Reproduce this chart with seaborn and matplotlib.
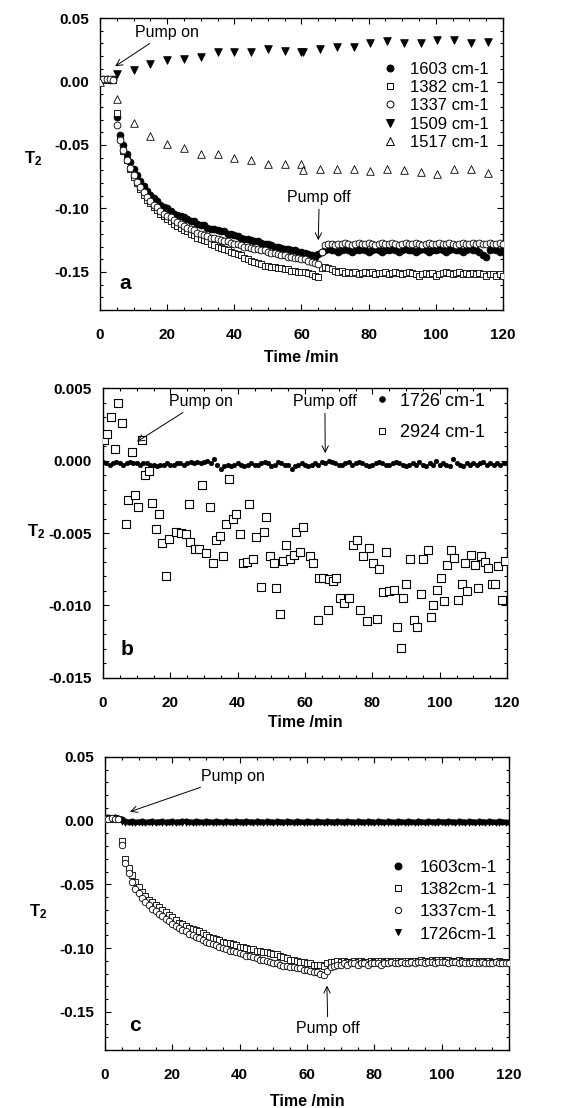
import matplotlib
matplotlib.use("Agg")
import matplotlib.pyplot as plt
import seaborn as sns
from matplotlib.lines import Line2D
from matplotlib.ticker import MultipleLocator, FuncFormatter

sns.set_theme(style="ticks")
plt.rcParams['font.family'] = ['Liberation Sans', 'DejaVu Sans']
plt.rcParams['font.weight'] = 'bold'
plt.rcParams['axes.labelweight'] = 'bold'
plt.rcParams['axes.unicode_minus'] = False
plt.rcParams['mathtext.fontset'] = 'custom'
plt.rcParams['mathtext.rm'] = 'Liberation Sans'
plt.rcParams['mathtext.bf'] = 'Liberation Sans:bold'
for k in ['axes.edgecolor', 'xtick.color', 'ytick.color', 'text.color', 'axes.labelcolor']:
    plt.rcParams[k] = 'black'

# ---- data -------------------------------------------------------------
minutes = list(range(121))

# panel a
a_1603 = [0.001, 0.002, 0.002, 0.001, 0.002, -0.028, -0.042, -0.050, -0.057, -0.063,
          -0.069, -0.074, -0.078, -0.082, -0.086, -0.089, -0.092, -0.094, -0.097, -0.099,
          -0.100, -0.102, -0.104, -0.105, -0.106, -0.107, -0.108, -0.110, -0.110, -0.112,
          -0.113, -0.113, -0.115, -0.116, -0.116, -0.117, -0.118, -0.118, -0.120, -0.120,
          -0.121, -0.122, -0.123, -0.124, -0.124, -0.125, -0.126, -0.126, -0.127, -0.128,
          -0.128, -0.129, -0.130, -0.130, -0.131, -0.132, -0.132, -0.133, -0.133, -0.134,
          -0.134, -0.135, -0.136, -0.137, -0.138, -0.136, -0.134, -0.133, -0.132, -0.133,
          -0.133, -0.134, -0.133, -0.132, -0.133, -0.134, -0.133, -0.133, -0.132, -0.133,
          -0.134, -0.133, -0.132, -0.133, -0.134, -0.133, -0.133, -0.132, -0.133, -0.134,
          -0.133, -0.132, -0.133, -0.133, -0.134, -0.133, -0.132, -0.133, -0.134, -0.133,
          -0.133, -0.132, -0.133, -0.134, -0.133, -0.132, -0.133, -0.133, -0.134, -0.133,
          -0.132, -0.133, -0.133, -0.134, -0.137, -0.138, -0.133, -0.132, -0.133, -0.134,
          -0.133]
a_1382 = [0.001, 0.001, 0.002, 0.001, 0.001, -0.025, -0.045, -0.055, -0.062, -0.069,
          -0.075, -0.080, -0.085, -0.089, -0.093, -0.096, -0.099, -0.101, -0.104, -0.106,
          -0.108, -0.110, -0.112, -0.114, -0.115, -0.117, -0.118, -0.120, -0.121, -0.123,
          -0.124, -0.125, -0.126, -0.128, -0.129, -0.130, -0.131, -0.132, -0.133, -0.134,
          -0.135, -0.136, -0.137, -0.139, -0.140, -0.141, -0.142, -0.143, -0.144, -0.145,
          -0.145, -0.146, -0.146, -0.147, -0.147, -0.148, -0.148, -0.149, -0.149, -0.150,
          -0.150, -0.150, -0.151, -0.152, -0.153, -0.154, -0.147, -0.146, -0.147, -0.148,
          -0.149, -0.150, -0.149, -0.151, -0.150, -0.151, -0.150, -0.152, -0.151, -0.150,
          -0.151, -0.150, -0.152, -0.151, -0.151, -0.150, -0.152, -0.151, -0.150, -0.151,
          -0.152, -0.151, -0.150, -0.151, -0.152, -0.153, -0.152, -0.151, -0.152, -0.151,
          -0.153, -0.152, -0.151, -0.150, -0.151, -0.152, -0.151, -0.150, -0.152, -0.151,
          -0.152, -0.151, -0.152, -0.151, -0.152, -0.153, -0.152, -0.152, -0.153, -0.152,
          -0.153]
a_1337 = [0.001, 0.002, 0.002, 0.002, 0.001, -0.034, -0.046, -0.054, -0.062, -0.068,
          -0.074, -0.079, -0.083, -0.087, -0.091, -0.094, -0.097, -0.099, -0.102, -0.104,
          -0.106, -0.107, -0.109, -0.111, -0.112, -0.114, -0.115, -0.116, -0.117, -0.119,
          -0.120, -0.121, -0.122, -0.123, -0.123, -0.124, -0.125, -0.126, -0.126, -0.127,
          -0.128, -0.128, -0.129, -0.130, -0.130, -0.131, -0.132, -0.132, -0.133, -0.133,
          -0.134, -0.135, -0.135, -0.136, -0.137, -0.137, -0.138, -0.138, -0.139, -0.139,
          -0.140, -0.140, -0.141, -0.142, -0.143, -0.144, -0.134, -0.129, -0.128, -0.128,
          -0.129, -0.128, -0.128, -0.127, -0.128, -0.129, -0.128, -0.127, -0.128, -0.128,
          -0.127, -0.128, -0.129, -0.128, -0.127, -0.128, -0.128, -0.127, -0.128, -0.129,
          -0.128, -0.127, -0.128, -0.128, -0.127, -0.128, -0.129, -0.128, -0.127, -0.128,
          -0.128, -0.127, -0.128, -0.128, -0.127, -0.128, -0.129, -0.128, -0.127, -0.128,
          -0.128, -0.127, -0.128, -0.127, -0.128, -0.128, -0.127, -0.128, -0.128, -0.127,
          -0.128]
a_1509_t = [5, 10, 15, 20, 25, 30, 35, 40, 45, 50, 55, 60, 60.5, 65.5, 70.5, 75.5,
            80.5, 85.5, 90.5, 95.5, 100.5, 105.5, 110.5, 115.5]
a_1509 = [0.006, 0.009, 0.014, 0.017, 0.018, 0.019, 0.023, 0.023, 0.023, 0.026, 0.024, 0.023,
          0.023, 0.026, 0.027, 0.027, 0.030, 0.032, 0.030, 0.030, 0.033, 0.033, 0.030, 0.031]
a_1517_t = [0, 5, 10, 15, 20, 25, 30, 35, 40, 45, 50, 55, 60, 60.5, 65.5, 70.5, 75.5,
            80.5, 85.5, 90.5, 95.5, 100.5, 105.5, 110.5, 115.5]
a_1517 = [0.000, -0.014, -0.033, -0.043, -0.049, -0.052, -0.057, -0.057, -0.060, -0.062,
          -0.065, -0.065, -0.065, -0.070, -0.069, -0.069, -0.069, -0.0705, -0.0687, -0.0695,
          -0.0713, -0.0726, -0.069, -0.069, -0.072]

# panel b
b_1726 = [-0.0001, -0.0002, -0.0003, -0.0002, -0.0001, -0.0002, -0.0003, -0.0002, -0.0001, -0.0002,
          -0.0002, -0.0003, -0.0002, -0.0002, -0.0003, -0.0003, -0.0004, -0.0003, -0.0003, -0.0002,
          -0.0003, -0.0003, -0.0002, -0.0002, -0.0003, -0.0002, -0.0001, -0.0002, -0.0001, -0.0002,
          -0.0001, 0.0000, -0.0002, 0.0001, -0.0003, -0.0006, -0.0004, -0.0003, -0.0004, -0.0003,
          -0.0002, -0.0003, -0.0004, -0.0003, -0.0002, -0.0003, -0.0003, -0.0002, -0.0001, -0.0002,
          -0.0004, -0.0003, -0.0001, -0.0002, -0.0003, -0.0003, -0.0006, -0.0004, -0.0003, -0.0002,
          -0.0003, -0.0004, -0.0003, -0.0002, -0.0003, -0.0001, -0.0002, 0.0000, -0.0001, -0.0002,
          -0.0003, -0.0003, -0.0002, -0.0001, -0.0003, -0.0002, -0.0001, -0.0002, -0.0003, -0.0004,
          -0.0003, -0.0002, -0.0001, -0.0002, -0.0003, -0.0003, -0.0002, -0.0001, -0.0002, -0.0003,
          -0.0004, -0.0003, -0.0002, -0.0003, -0.0001, -0.0003, -0.0004, -0.0002, -0.0003, 0.0000,
          -0.0003, -0.0002, -0.0003, -0.0004, 0.0001, -0.0002, -0.0003, -0.0004, -0.0002, -0.0003,
          -0.0002, -0.0003, -0.0002, -0.0001, -0.0003, -0.0002, -0.0003, -0.0002, -0.0003, -0.0002,
          -0.0002]
b_2924_t = [0.4, 1.3, 2.4, 3.6, 4.5, 5.5, 6.7, 7.5, 8.5, 9.5, 10.5, 11.5, 12.4, 13.6, 14.6,
            15.7, 16.7, 17.6, 18.7, 19.6, 21.7, 23.3, 24.7, 25.6, 25.8, 27.2, 28.5, 29.5, 30.7,
            31.7, 32.7, 33.7, 34.6, 35.6, 36.6, 37.4, 38.6, 39.6, 40.6, 41.6, 42.7, 43.5, 44.5,
            45.5, 46.8, 47.7, 48.5, 49.7, 50.7, 51.4, 52.7, 53.6, 54.4, 55.6, 56.6, 57.4, 58.5,
            59.5, 61.5, 62.5, 63.8, 64.3, 65.4, 66.7, 67.2, 68.4, 69.2, 70.4, 71.5, 73.1, 74.3,
            75.3, 76.3, 77.1, 78.3, 79.1, 80.3, 81.4, 82.0, 83.2, 84.0, 85.0, 86.3, 87.3, 88.5,
            89.2, 90.1, 91.1, 92.4, 93.4, 94.4, 95.1, 96.4, 97.3, 98.1, 99.1, 100.3, 101.3,
            102.3, 103.3, 104.2, 105.5, 106.5, 107.4, 108.2, 109.2, 110.5, 111.4, 112.3, 113.4,
            114.4, 115.4, 116.4, 117.4, 118.6, 119.5]
b_2924 = [0.0014, 0.0018, 0.0030, 0.0008, 0.0040, 0.0026, -0.0044, -0.0027, 0.0006, -0.0024,
          -0.0032, 0.0014, -0.0010, -0.0007, -0.0029, -0.0047, -0.0037, -0.0057, -0.0080, -0.0054,
          -0.0049, -0.0050, -0.0051, -0.0030, -0.0056, -0.0061, -0.0061, -0.0017, -0.0064,
          -0.0032, -0.0071, -0.0055, -0.0052, -0.0066, -0.0044, -0.0013, -0.0040, -0.0037,
          -0.0051, -0.0071, -0.0070, -0.0030, -0.0068, -0.0053, -0.0087, -0.0049, -0.0039,
          -0.0066, -0.0071, -0.0088, -0.0106, -0.0069, -0.0058, -0.0068, -0.0065, -0.0049,
          -0.0063, -0.0046, -0.0066, -0.0071, -0.0110, -0.0081, -0.0081, -0.0103, -0.0082,
          -0.0083, -0.0081, -0.0095, -0.0098, -0.0095, -0.0058, -0.0055, -0.0103, -0.0066,
          -0.0111, -0.0060, -0.0071, -0.0109, -0.0075, -0.0091, -0.0063, -0.0090, -0.0089,
          -0.0115, -0.0129, -0.0095, -0.0085, -0.0068, -0.0110, -0.0115, -0.0092, -0.0068,
          -0.0062, -0.0108, -0.0100, -0.0089, -0.0081, -0.0097, -0.0072, -0.0062, -0.0067,
          -0.0096, -0.0085, -0.0071, -0.0090, -0.0065, -0.0072, -0.0088, -0.0066, -0.0070,
          -0.0074, -0.0085, -0.0085, -0.0073, -0.0096, -0.0069]

# panel c
c_1603 = [0.003, 0.003, 0.002, 0.003, 0.002, 0.001, 0.000, -0.001, 0.000, -0.001,
          -0.001, 0.000, -0.001, -0.001, 0.000, -0.001, -0.001, 0.000, -0.001, -0.001,
          0.000, -0.001, -0.001, 0.000, 0.000, -0.001, -0.001, 0.000, -0.001, -0.001,
          0.000, -0.001, -0.001, 0.000, -0.001, -0.001, 0.000, -0.001, -0.001, 0.000,
          -0.001, -0.001, 0.000, -0.001, -0.001, 0.000, -0.001, -0.001, 0.000, -0.001,
          -0.001, 0.000, -0.001, -0.001, 0.000, -0.001, -0.001, 0.000, -0.001, -0.001,
          0.000, -0.001, -0.001, 0.000, -0.001, -0.001, 0.000, -0.001, -0.001, 0.000,
          -0.001, -0.001, 0.000, -0.001, -0.001, 0.000, -0.001, -0.001, 0.000, -0.001,
          -0.001, 0.000, -0.001, -0.001, 0.000, -0.001, -0.001, 0.000, -0.001, -0.001,
          0.000, -0.001, -0.001, 0.000, -0.001, -0.001, 0.000, -0.001, -0.001, 0.000,
          -0.001, -0.001, 0.000, -0.001, -0.001, 0.000, -0.001, -0.001, 0.000, -0.001,
          -0.001, 0.000, -0.001, -0.001, 0.000, -0.001, -0.001, 0.000, -0.001, -0.001,
          -0.001]
c_1382 = [0.001, 0.002, 0.001, 0.002, 0.001, -0.016, -0.030, -0.037, -0.043, -0.048,
          -0.052, -0.056, -0.059, -0.062, -0.064, -0.066, -0.068, -0.070, -0.072, -0.074,
          -0.076, -0.078, -0.080, -0.081, -0.083, -0.084, -0.085, -0.086, -0.087, -0.088,
          -0.090, -0.091, -0.092, -0.093, -0.094, -0.095, -0.096, -0.096, -0.097, -0.098,
          -0.099, -0.099, -0.100, -0.101, -0.101, -0.102, -0.102, -0.103, -0.103, -0.104,
          -0.105, -0.105, -0.106, -0.107, -0.108, -0.109, -0.109, -0.110, -0.111, -0.111,
          -0.112, -0.112, -0.113, -0.113, -0.113, -0.114, -0.112, -0.111, -0.111, -0.110,
          -0.111, -0.110, -0.111, -0.111, -0.110, -0.111, -0.110, -0.111, -0.111, -0.110,
          -0.111, -0.110, -0.110, -0.111, -0.110, -0.111, -0.110, -0.110, -0.111, -0.110,
          -0.110, -0.111, -0.110, -0.110, -0.109, -0.110, -0.110, -0.109, -0.110, -0.109,
          -0.109, -0.110, -0.109, -0.110, -0.110, -0.109, -0.110, -0.110, -0.111, -0.110,
          -0.110, -0.111, -0.110, -0.111, -0.110, -0.111, -0.111, -0.110, -0.111, -0.111,
          -0.111]
c_1337 = [0.001, 0.001, 0.002, 0.001, 0.001, -0.019, -0.033, -0.041, -0.048, -0.054,
          -0.057, -0.061, -0.064, -0.066, -0.069, -0.071, -0.073, -0.075, -0.077, -0.079,
          -0.081, -0.083, -0.084, -0.086, -0.087, -0.089, -0.090, -0.091, -0.092, -0.094,
          -0.095, -0.096, -0.097, -0.098, -0.099, -0.100, -0.101, -0.102, -0.102, -0.103,
          -0.104, -0.105, -0.106, -0.106, -0.107, -0.108, -0.109, -0.109, -0.110, -0.111,
          -0.112, -0.112, -0.113, -0.114, -0.114, -0.115, -0.115, -0.116, -0.116, -0.117,
          -0.117, -0.118, -0.119, -0.119, -0.120, -0.121, -0.118, -0.115, -0.114, -0.113,
          -0.113, -0.112, -0.113, -0.112, -0.112, -0.113, -0.112, -0.112, -0.113, -0.112,
          -0.112, -0.112, -0.113, -0.112, -0.112, -0.111, -0.112, -0.112, -0.111, -0.112,
          -0.112, -0.111, -0.112, -0.111, -0.111, -0.112, -0.111, -0.111, -0.112, -0.111,
          -0.111, -0.111, -0.112, -0.111, -0.111, -0.112, -0.111, -0.112, -0.112, -0.111,
          -0.112, -0.112, -0.111, -0.112, -0.112, -0.112, -0.111, -0.112, -0.112, -0.112,
          -0.112]
c_1726 = [0.001, 0.002, 0.001, 0.002, 0.001, -0.001, -0.002, -0.001, -0.002, -0.002,
          -0.001, -0.002, -0.002, -0.001, -0.002, -0.002, -0.001, -0.002, -0.002, -0.001,
          -0.002, -0.002, -0.001, -0.002, -0.002, -0.001, -0.002, -0.002, -0.001, -0.002,
          -0.002, -0.001, -0.002, -0.002, -0.001, -0.002, -0.002, -0.001, -0.002, -0.002,
          -0.001, -0.002, -0.002, -0.001, -0.002, -0.002, -0.001, -0.002, -0.002, -0.001,
          -0.002, -0.002, -0.001, -0.002, -0.002, -0.001, -0.002, -0.002, -0.001, -0.002,
          -0.002, -0.001, -0.002, -0.002, -0.001, -0.002, -0.002, -0.001, -0.002, -0.002,
          -0.001, -0.002, -0.002, -0.001, -0.002, -0.002, -0.001, -0.002, -0.002, -0.001,
          -0.002, -0.002, -0.001, -0.002, -0.002, -0.001, -0.002, -0.002, -0.001, -0.002,
          -0.002, -0.001, -0.002, -0.002, -0.001, -0.002, -0.002, -0.001, -0.002, -0.002,
          -0.001, -0.002, -0.002, -0.001, -0.002, -0.002, -0.001, -0.002, -0.002, -0.001,
          -0.002, -0.002, -0.001, -0.002, -0.002, -0.001, -0.002, -0.002, -0.001, -0.002,
          -0.002]


def dots(ax, x, y, marker, face, size, lw=0.6):
    sns.scatterplot(x=x, y=y, ax=ax, marker=marker, color=face, edgecolor='black',
                    s=size, linewidth=lw, legend=False, zorder=3)


def style(ax, ylim, ymaj, ymin, fmt, xlab_y, ylab_y):
    ax.set_xlim(0, 120)
    ax.set_ylim(*ylim)
    ax.xaxis.set_major_locator(MultipleLocator(20))
    ax.xaxis.set_minor_locator(MultipleLocator(5))
    ax.yaxis.set_major_locator(MultipleLocator(ymaj))
    ax.yaxis.set_minor_locator(MultipleLocator(ymin))
    ax.yaxis.set_major_formatter(FuncFormatter(lambda v, p: fmt.format(0.0 if abs(v) < 1e-9 else v)))
    ax.tick_params(which='both', direction='in', top=True, right=True, width=0.8)
    ax.tick_params(which='major', length=4.5)
    ax.tick_params(which='minor', length=2.5)
    ax.tick_params(axis='x', pad=13, labelsize=11)
    ax.tick_params(axis='y', pad=8, labelsize=11)
    for lab in ax.get_xticklabels() + ax.get_yticklabels():
        lab.set_fontweight('bold')
    for sp in ax.spines.values():
        sp.set_linewidth(1.0)
    ax.set_xlabel('Time /min', fontsize=11.5, fontweight='bold', va='center')
    ax.xaxis.set_label_coords(0.5, xlab_y)
    ax.set_ylabel(r'$\mathbf{T_2}$', rotation=0, fontsize=12, va='center', ha='center')
    ax.yaxis.set_label_coords(-0.165, ylab_y)


def legend(ax, labels, entries, x, y, fs, spacing, pad):
    handles = [Line2D([], [], ls='', marker=m, mfc=f, mec='black', mew=0.7, ms=ms)
               for m, f, ms in entries]
    ax.legend(handles, labels, loc='upper left', bbox_to_anchor=(x, y), frameon=False,
              borderpad=0, borderaxespad=0, handlelength=1, handletextpad=pad,
              labelspacing=spacing, prop={'size': fs, 'weight': 'normal'})


fig = plt.figure(figsize=(5.72, 11.08), dpi=100)
ax_a = fig.add_axes([0.1748, 0.7202, 0.7045, 0.2635])
ax_b = fig.add_axes([0.1801, 0.3881, 0.7063, 0.2617])
ax_c = fig.add_axes([0.1836, 0.0524, 0.7063, 0.2644])

arrow = dict(arrowstyle='->', color='black', lw=0.7, shrinkA=1, shrinkB=0)
note = dict(fontsize=11.5, fontweight='normal', ha='center', va='center')

# ---- panel a ----
dots(ax_a, minutes, a_1603, 'o', 'black', 24)
dots(ax_a, minutes, a_1382, 's', 'white', 22)
dots(ax_a, minutes, a_1337, 'o', 'white', 24)
dots(ax_a, a_1509_t, a_1509, 'v', 'black', 30)
dots(ax_a, a_1517_t, a_1517, '^', 'white', 30)
style(ax_a, (-0.18, 0.05), 0.05, 0.01, '{:.2f}', -0.161, 0.52)
ax_a.annotate('Pump on', xy=(4.5, 0.012), xytext=(20, 0.039), arrowprops=arrow, **note)
ax_a.annotate('Pump off', xy=(65, -0.125), xytext=(65.3, -0.091), arrowprops=arrow, **note)
ax_a.text(0.062, 0.092, 'a', transform=ax_a.transAxes, fontsize=15, fontweight='bold',
          ha='center', va='center')
legend(ax_a, ['1603 cm-1', '1382 cm-1', '1337 cm-1', '1509 cm-1', '1517 cm-1'],
       [('o', 'black', 5), ('s', 'white', 5), ('o', 'white', 5), ('v', 'black', 5.5),
        ('^', 'white', 5.5)], 0.70, 0.851, 12, 0.2, 0.7)

# ---- panel b ----
dots(ax_b, minutes, b_1726, 'o', 'black', 11, lw=0.4)
dots(ax_b, b_2924_t, b_2924, 's', 'white', 26, lw=0.8)
style(ax_b, (-0.015, 0.005), 0.005, 0.001, '{:.3f}', -0.155, 0.503)
ax_b.annotate('Pump on', xy=(10.1, 0.0013), xytext=(29.1, 0.0041), arrowprops=arrow, **note)
ax_b.annotate('Pump off', xy=(66, 0.0005), xytext=(65.9, 0.0041), arrowprops=arrow, **note)
ax_b.text(0.059, 0.097, 'b', transform=ax_b.transAxes, fontsize=15, fontweight='bold',
          ha='center', va='center')
legend(ax_b, ['1726 cm-1', '2924 cm-1'], [('o', 'black', 4), ('s', 'white', 5)],
       0.668, 0.984, 13, 0.8, 0.5)

# ---- panel c ----
dots(ax_c, minutes, c_1603, 'o', 'black', 14)
dots(ax_c, minutes, c_1726, 'v', 'black', 14)
dots(ax_c, minutes, c_1382, 's', 'white', 22)
dots(ax_c, minutes, c_1337, 'o', 'white', 22)
style(ax_c, (-0.18, 0.05), 0.05, 0.01, '{:.2f}', -0.177, 0.471)
ax_c.annotate('Pump on', xy=(7.4, 0.007), xytext=(38, 0.035), arrowprops=arrow, **note)
ax_c.annotate('Pump off', xy=(65.9, -0.1295), xytext=(66.2, -0.1635), arrowprops=arrow, **note)
ax_c.text(0.074, 0.085, 'c', transform=ax_c.transAxes, fontsize=15, fontweight='bold',
          ha='center', va='center')
legend(ax_c, ['1603cm-1', '1382cm-1', '1337cm-1', '1726cm-1'],
       [('o', 'black', 5), ('s', 'white', 5), ('o', 'white', 4.5), ('v', 'black', 5)],
       0.703, 0.648, 12.5, 0.4, 0.76)

fig.savefig('out.png', dpi=100)
